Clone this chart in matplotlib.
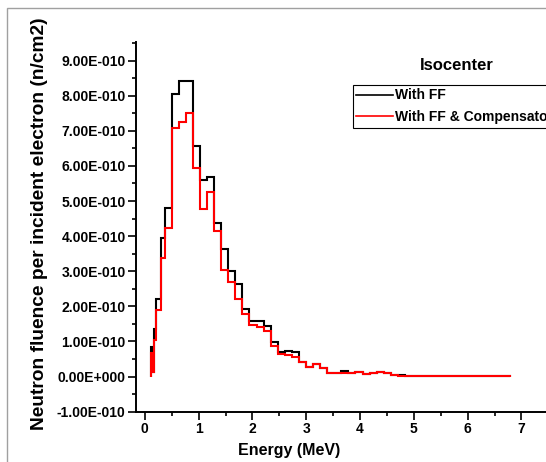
import numpy as np
import matplotlib
matplotlib.use("Agg")
import matplotlib.pyplot as plt
from matplotlib.ticker import FuncFormatter, MultipleLocator
from matplotlib.lines import Line2D
from matplotlib.patches import Rectangle

plt.rcParams['font.family'] = ['Liberation Sans', 'DejaVu Sans']
plt.rcParams['font.weight'] = 'bold'

# bin edges (MeV)
edges = [0.115, 0.143, 0.171, 0.214, 0.296, 0.375, 0.500,
         0.631, 0.763, 0.894, 1.026, 1.157, 1.288, 1.420, 1.551, 1.683,
         1.814, 1.945, 2.077, 2.208, 2.340, 2.471, 2.602, 2.734, 2.865,
         2.997, 3.128, 3.259, 3.391, 3.522, 3.654, 3.785, 3.916, 4.048,
         4.179, 4.311, 4.442, 4.573, 4.705, 4.836, 6.790]

# neutron fluence per incident electron, units of 1e-10 n/cm2
with_ff = [0.85, 0.14, 1.35, 2.20, 3.95, 4.80,
           8.05, 8.43, 8.43, 6.57, 5.60, 5.69, 4.37, 3.63, 3.00, 2.65,
           1.92, 1.57, 1.57, 1.44, 0.99, 0.71, 0.73, 0.71, 0.42,
           0.26, 0.35, 0.24, 0.11, 0.11, 0.17, 0.10, 0.14, 0.07,
           0.10, 0.12, 0.10, 0.04, 0.04, 0.02]
with_comp = [0.67, 0.14, 1.04, 1.90, 3.37, 4.24,
             7.09, 7.26, 7.52, 5.93, 4.77, 5.27, 4.16, 3.03, 2.69, 2.22,
             1.79, 1.46, 1.42, 1.30, 0.88, 0.64, 0.61, 0.57, 0.42,
             0.26, 0.35, 0.24, 0.11, 0.11, 0.10, 0.10, 0.14, 0.07,
             0.10, 0.12, 0.10, 0.04, 0.02, 0.02]

labels = ["With FF", "With FF & Compensator"]
colors = ["black", "#ff0000"]

scale = 1e-10
edges = np.array(edges)
ff = np.array(with_ff) * scale
comp = np.array(with_comp) * scale

W, H = 546, 462
fig = plt.figure(figsize=(W / 100, H / 100), dpi=100)
ax = fig.add_axes([136 / W, 1 - 412 / H, 412.3 / W, 370 / H])

ax.stairs(ff, edges, baseline=0, color=colors[0], lw=1.5)
ax.stairs(comp, edges, baseline=0, color=colors[1], lw=1.5)

ax.set_xlim(-0.164, 7.5)
ax.set_ylim(-1.01e-10, 9.53e-10)

def sci(v, pos):
    if abs(v) < 1e-14:
        return "0.00E+000"
    e = int(np.floor(np.log10(abs(v)) + 1e-9))
    m = v / 10 ** e
    return f"{m:.2f}E{e:+04d}"

ax.yaxis.set_major_locator(MultipleLocator(1e-10))
ax.yaxis.set_minor_locator(MultipleLocator(0.5e-10))
ax.yaxis.set_major_formatter(FuncFormatter(sci))
ax.xaxis.set_major_locator(MultipleLocator(1))
ax.xaxis.set_minor_locator(MultipleLocator(0.5))

for s in ["top", "right"]:
    ax.spines[s].set_visible(False)
for s in ["left", "bottom"]:
    ax.spines[s].set_linewidth(1.4)

ax.tick_params(which="major", length=5.5, width=1.2, labelsize=10, pad=2)
ax.tick_params(which="minor", length=3, width=1.2)
for lab in ax.get_xticklabels() + ax.get_yticklabels():
    lab.set_fontweight("bold")

fig.text(40 / W, 1 - 224 / H, "Neutron fluence per incident electron (n/cm2)",
         rotation=90, ha="center", va="center", fontsize=13.8, fontweight="bold")
fig.text(289 / W, 1 - 451 / H, "Energy (MeV)", ha="center", va="center",
         fontsize=11.5, fontweight="bold")
fig.text(457 / W, 1 - 66 / H, "Isocenter", ha="center", va="center",
         fontsize=12, fontweight="bold")

handles = [Line2D([], [], color=c, lw=1.2) for c in colors]
leg = ax.legend(handles, labels, loc="upper left",
                bbox_to_anchor=(353 / W, 1 - 85 / H), bbox_transform=fig.transFigure,
                fancybox=False, edgecolor="black", framealpha=1, borderaxespad=0,
                handlelength=2.6, handletextpad=0.2, borderpad=0.25,
                labelspacing=0.55, prop={"weight": "bold", "size": 10})
leg.get_frame().set_linewidth(0.8)

fig.add_artist(Rectangle((7 / W, -0.5), 2, 1 - 7.5 / H + 0.5, transform=fig.transFigure,
                         fill=False, edgecolor="#a0a0a0", lw=1))

fig.savefig("out.png", dpi=100)
